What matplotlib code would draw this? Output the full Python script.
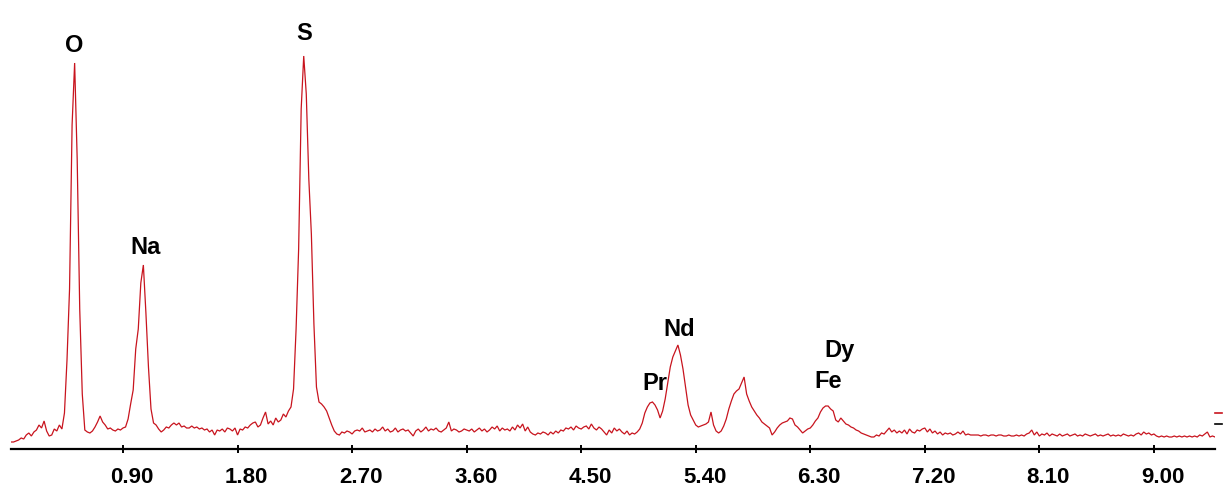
import numpy as np
import matplotlib
matplotlib.use("Agg")
import matplotlib.pyplot as plt
from matplotlib.lines import Line2D
from matplotlib.transforms import ScaledTranslation

# ---- data ----
energy_start = 0.02      # keV, first channel
energy_step = 0.02       # keV per channel
counts = [
    7, 7, 8, 9, 11, 10, 14, 16, 13, 17,
    19, 24, 21, 28, 18, 13, 14, 20, 18, 24,
    20, 36, 89, 160, 324, 386, 290, 140, 55, 19,
    17, 16, 18, 22, 27, 33, 27, 24, 20, 21,
    19, 18, 20, 19, 21, 22, 30, 45, 59, 100,
    120, 166, 184, 136, 82, 40, 26, 24, 20, 17,
    19, 22, 21, 24, 26, 24, 26, 22, 23, 21,
    21, 23, 21, 22, 20, 21, 19, 20, 17, 19,
    14, 19, 18, 20, 17, 21, 20, 18, 21, 14,
    20, 19, 22, 21, 24, 26, 27, 22, 24, 31,
    37, 25, 28, 24, 31, 27, 29, 35, 32, 38,
    42, 60, 120, 200, 340, 393, 355, 270, 215, 125,
    62, 47, 45, 42, 38, 31, 24, 18, 15, 14,
    17, 16, 18, 17, 15, 18, 19, 18, 21, 17,
    18, 19, 17, 20, 18, 19, 22, 18, 20, 17,
    18, 21, 17, 19, 20, 18, 19, 16, 13, 18,
    20, 17, 19, 22, 18, 20, 19, 21, 18, 17,
    19, 21, 27, 18, 20, 19, 17, 18, 20, 19,
    18, 20, 17, 19, 21, 18, 20, 17, 19, 22,
    20, 23, 18, 21, 19, 20, 18, 22, 19, 24,
    21, 25, 18, 22, 17, 15, 14, 16, 15, 17,
    16, 14, 17, 15, 18, 16, 19, 18, 21, 20,
    22, 19, 23, 21, 20, 22, 23, 20, 25, 21,
    19, 22, 20, 17, 14, 19, 16, 21, 18, 20,
    17, 15, 18, 14, 16, 15, 17, 20, 26, 36,
    42, 46, 47, 44, 39, 31, 38, 50, 66, 82,
    92, 98, 104, 94, 80, 62, 44, 34, 29, 24,
    22, 23, 24, 25, 27, 37, 24, 18, 16, 18,
    23, 30, 40, 48, 55, 58, 60, 66, 72, 55,
    48, 42, 38, 34, 31, 27, 25, 23, 21, 14,
    17, 21, 24, 26, 27, 28, 31, 30, 24, 22,
    19, 16, 18, 20, 21, 24, 28, 31, 37, 41,
    43, 43, 40, 38, 29, 27, 31, 28, 25, 24,
    22, 21, 19, 18, 16, 15, 14, 13, 12, 12,
    14, 13, 16, 15, 18, 21, 17, 19, 16, 18,
    16, 19, 15, 20, 17, 16, 19, 18, 20, 21,
    17, 20, 16, 18, 15, 17, 14, 16, 15, 16,
    14, 15, 17, 15, 18, 14, 15, 14, 14, 14,
    14, 13, 14, 14, 13, 14, 14, 13, 14, 14,
    13, 13, 14, 13, 13, 14, 13, 14, 13, 15,
    16, 19, 14, 17, 13, 15, 14, 16, 13, 15,
    14, 13, 15, 13, 14, 15, 13, 14, 15, 13,
    14, 13, 15, 14, 13, 14, 15, 13, 14, 13,
    14, 15, 13, 14, 13, 14, 13, 15, 14, 13,
    14, 13, 15, 16, 14, 17, 15, 16, 14, 15,
    13, 12, 13, 12, 13, 12, 12, 13, 12, 13,
    12, 13, 12, 13, 12, 13, 12, 14, 13, 15,
    17, 12, 13, 12,
]
tick_values = [0.90, 1.80, 2.70, 3.60, 4.50, 5.40, 6.30, 7.20, 8.10, 9.00]
tick_labels = ["0.90", "1.80", "2.70", "3.60", "4.50", "5.40", "6.30", "7.20", "8.10", "9.00"]
element_labels = ["O", "Na", "S", "Pr", "Nd", "Fe", "Dy"]
label_energy = [0.515, 1.081, 2.322, 5.08, 5.268, 6.44, 6.533]
label_height = [403, 201, 415, 66, 119, 68, 98]

energy = energy_start + energy_step * np.arange(len(counts))

# ---- figure ----
W, H = 1224, 495
fig = plt.figure(figsize=(W / 100, H / 100), dpi=100)
ax = fig.add_axes([11 / W, (H - 449) / H, (1215 - 11) / W, 449 / H])
ax.plot(energy, counts, color="#c8141e", lw=0.9, solid_joinstyle="miter")
ax.set_xlim(0.02, 9.48)
ax.set_ylim(0, 449)

for s in ["top", "left", "right"]:
    ax.spines[s].set_visible(False)
ax.spines["bottom"].set_linewidth(1.6)
ax.spines["bottom"].set_color("black")
ax.set_yticks([])
ax.set_xticks(tick_values)
ax.set_xticklabels(tick_labels)
ax.tick_params(axis="x", direction="inout", length=6, width=1.4, pad=10,
               labelsize=16, color="black")
shift = ScaledTranslation(9 / 100, 0, fig.dpi_scale_trans)
for lab in ax.get_xticklabels():
    lab.set_fontfamily("Liberation Sans")
    lab.set_fontweight("bold")
    lab.set_transform(lab.get_transform() + shift)

for name, ex, hy in zip(element_labels, label_energy, label_height):
    ax.text(ex, hy, name, ha="center", va="center", fontsize=17,
            fontweight="bold", family="Liberation Sans", color="black")

# small marker at the right edge
fig.add_artist(Line2D([1215 / W, 1222 / W], [(H - 413) / H] * 2,
                      transform=fig.transFigure, color="#c8141e", lw=1.2))
fig.add_artist(Line2D([1215 / W, 1222 / W], [(H - 424) / H] * 2,
                      transform=fig.transFigure, color="black", lw=1.2))

fig.savefig("out.png", dpi=100)
